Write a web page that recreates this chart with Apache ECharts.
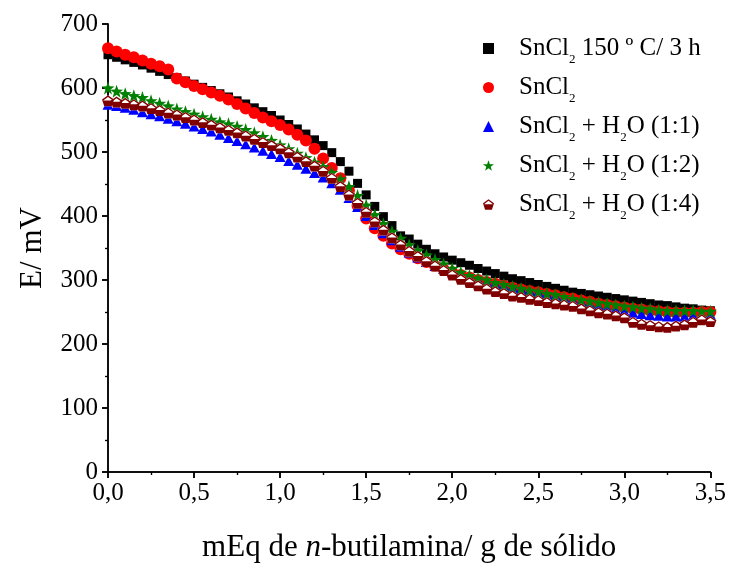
<!DOCTYPE html>
<html><head><meta charset="utf-8">
<script src="https://cdn.jsdelivr.net/npm/echarts@6/dist/echarts.min.js"></script>
<style>html,body{margin:0;padding:0;background:#fff}#c{width:729px;height:568px}</style>
</head><body><div id="c"></div>
<script>
// x positions (mEq / g)
const xValues = [0.00,0.05,0.10,0.15,0.20,0.25,0.30,0.35,0.40,0.45,0.50,0.55,0.60,0.65,0.70,0.75,0.80,0.85,0.90,0.95,
  1.00,1.05,1.10,1.15,1.20,1.25,1.30,1.35,1.40,1.45,1.50,1.55,1.60,1.65,1.70,1.75,1.80,1.85,1.90,1.95,
  2.00,2.05,2.10,2.15,2.20,2.25,2.30,2.35,2.40,2.45,2.50,2.55,2.60,2.65,2.70,2.75,2.80,2.85,2.90,2.95,
  3.00,3.05,3.10,3.15,3.20,3.25,3.30,3.35,3.40,3.45,3.50];

const seriesNames = ['SnCl2 150 º C/ 3 h','SnCl2','SnCl2 + H2O (1:1)','SnCl2 + H2O (1:2)','SnCl2 + H2O (1:4)'];
const legendLabels = ['SnCl{s|2} 150 º C/ 3 h','SnCl{s|2}','SnCl{s|2} + H{s|2}O (1:1)','SnCl{s|2} + H{s|2}O (1:2)','SnCl{s|2} + H{s|2}O (1:4)'];

const eSnCl2_150 = [652,648,644,640,636,631,626,621,616,611,606,601,596,591,586,580,575,569,563,557,
  550,543,536,528,519,510,499,485,470,451,433,415,399,385,369,364,356,348,341,336,
  331,327,323,318,314,310,306,302,299,296,293,290,287,284,281,279,277,275,273,271,
  269,267,265,263,261,260,258,256,255,253,252];
const eSnCl2 = [662,657,652,648,643,638,634,629,615,609,603,598,593,588,582,575,568,561,554,548,
  542,535,527,518,505,490,475,459,440,416,396,381,369,357,348,341,334,328,322,317,
  312,308,304,300,297,294,291,288,285,283,281,278,276,273,271,268,266,263,261,259,
  257,255,254,252,251,250,249,249,249,250,250];
const eH2O_11 = [574,572,569,566,562,559,556,552,548,544,540,536,532,527,522,517,512,507,502,497,
  492,486,480,474,467,460,451,441,428,414,400,386,373,362,352,343,335,328,322,317,
  312,308,304,300,297,294,291,288,286,283,281,278,275,272,269,266,263,260,257,254,
  251,249,247,245,244,243,243,243,244,245,246];
const eH2O_12 = [600,595,591,588,585,580,576,572,567,563,559,555,551,547,544,540,535,530,524,518,
  511,505,498,491,484,477,468,458,446,432,417,402,388,376,365,355,346,339,332,325,
  318,312,307,303,300,296,293,290,287,284,282,279,277,274,271,269,267,265,263,261,
  259,258,256,255,253,252,252,252,252,251,251];
const eH2O_14 = [580,578,576,574,572,568,565,561,558,554,550,546,542,538,534,530,525,520,515,510,
  505,499,492,485,478,470,459,446,433,420,406,391,378,366,355,345,337,329,322,315,
  308,301,296,291,286,282,279,275,273,270,268,265,263,261,259,255,252,249,247,244,
  241,234,231,229,227,226,228,230,234,238,235];

const xTicks = ['0,0','0,5','1,0','1,5','2,0','2,5','3,0','3,5'];
const yTicks = [0,100,200,300,400,500,600,700];

const FONT = 'Liberation Serif';
const pair = arr => xValues.map((x, i) => [x, arr[i]]);
const starPath = 'path://M50 0L61.76 33.82L97.55 34.55L69.02 56.18L79.39 90.45L50 70L20.61 90.45L30.98 56.18L2.45 34.55L38.24 33.82Z';
const pentRing = 'path://M50 0L100 36L81 95L19 95L0 36ZM50 14L12 42L28 84L72 84L88 42ZM3 45L97 45L81 95L19 95Z';
const pentFull = 'path://M50 0L100 36L81 95L19 95L0 36Z';

const chart = echarts.init(document.getElementById('c'), null, {renderer: 'canvas'});
const axisLine = {show: true, lineStyle: {color: '#000', width: 1.5}};
const option = {
  backgroundColor: '#fff',
  animation: false,
  textStyle: {fontFamily: FONT},
  grid: {left: 108, right: 15, top: 24, bottom: 92, containLabel: false},
  legend: {
    orient: 'vertical', left: 478, top: 26, itemWidth: 11, itemHeight: 11, itemGap: 4,
    data: seriesNames, selectedMode: false, symbolKeepAspect: true,
    formatter: n => legendLabels[seriesNames.indexOf(n)],
    textStyle: {fontFamily: FONT, fontSize: 25, color: '#000', lineHeight: 24, padding: [0, 0, 0, 20],
      rich: {s: {fontFamily: FONT, fontSize: 13, lineHeight: 1, padding: [22, 0, 0, 0], color: '#000'}}}
  },
  xAxis: [{
    type: 'value', min: 0, max: 3.5, interval: 0.5, position: 'bottom',
    axisLine: axisLine,
    axisTick: {show: true, inside: false, length: 6, lineStyle: {color: '#000', width: 1.5}},
    minorTick: {show: true, splitNumber: 2, length: 3, lineStyle: {color: '#000', width: 1.2}},
    splitLine: {show: false},
    axisLabel: {fontFamily: FONT, fontSize: 25, color: '#000', margin: 9,
      formatter: v => xTicks[Math.round(v / 0.5)]},
    name: 'mEq de {i|n}-butilamina/ g de sólido', nameLocation: 'middle', nameGap: 60,
    nameTextStyle: {fontFamily: FONT, fontSize: 31, color: '#000',
      rich: {i: {fontFamily: FONT, fontSize: 31, fontStyle: 'italic', color: '#000'}}}
  }, {
    type: 'value', min: 0, max: 3.5, interval: 0.5, position: 'top',
    axisLine: axisLine,
    axisTick: {show: true, inside: true, length: 6, lineStyle: {color: '#000', width: 1.5}},
    minorTick: {show: true, splitNumber: 2, length: 3, lineStyle: {color: '#000', width: 1.2}},
    splitLine: {show: false}, axisLabel: {show: false}
  }],
  yAxis: [{
    type: 'value', min: 0, max: 700, interval: 100, position: 'left',
    axisLine: axisLine,
    axisTick: {show: true, inside: false, length: 6, lineStyle: {color: '#000', width: 1.5}},
    minorTick: {show: true, splitNumber: 2, length: 3, lineStyle: {color: '#000', width: 1.2}},
    splitLine: {show: false},
    axisLabel: {fontFamily: FONT, fontSize: 25, color: '#000', margin: 10,
      formatter: v => String(yTicks[Math.round(v / 100)])},
    name: 'E/ mV', nameLocation: 'middle', nameGap: 60,
    nameTextStyle: {fontFamily: FONT, fontSize: 31, color: '#000'}
  }, {
    type: 'value', min: 0, max: 700, interval: 100, position: 'right',
    axisLine: axisLine,
    axisTick: {show: true, inside: true, length: 6, lineStyle: {color: '#000', width: 1.5}},
    minorTick: {show: true, splitNumber: 2, length: 3, lineStyle: {color: '#000', width: 1.2}},
    splitLine: {show: false}, axisLabel: {show: false}
  }],
  series: [
    {name: seriesNames[0], type: 'scatter', data: pair(eSnCl2_150), symbol: 'rect', symbolSize: 9,
      itemStyle: {color: '#000000', opacity: 1}, z: 2},
    {name: seriesNames[1], type: 'scatter', data: pair(eSnCl2), symbol: 'circle', symbolSize: 12,
      itemStyle: {color: '#ff0000', opacity: 1}, z: 2},
    {name: seriesNames[2], type: 'scatter', data: pair(eH2O_11), symbol: 'triangle', symbolSize: [11, 10],
      itemStyle: {color: '#0000ff', opacity: 1}, z: 2},
    {name: seriesNames[3], type: 'scatter', data: pair(eH2O_12), symbol: starPath, symbolSize: 13,
      itemStyle: {color: '#008000', opacity: 1}, z: 2},
    {name: seriesNames[4], type: 'scatter', data: pair(eH2O_14), symbol: pentRing, symbolSize: [12, 11],
      itemStyle: {color: '#800000', opacity: 1}, z: 4},
    {name: 'pentFill', type: 'scatter', data: pair(eH2O_14), symbol: pentFull, symbolSize: [12, 11],
      itemStyle: {color: '#ffffff', opacity: 1}, z: 3, silent: true}
  ]
};
chart.setOption(option);
</script>
</body></html>
